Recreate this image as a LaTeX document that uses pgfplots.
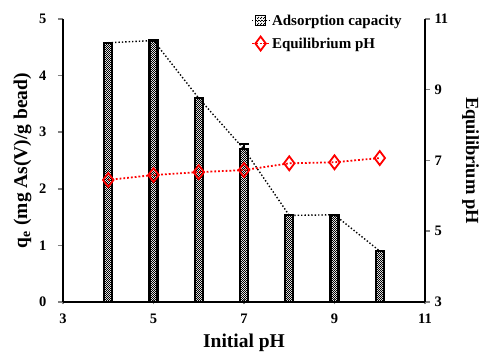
\documentclass[border=0pt]{standalone}
\usepackage{pgfplots}
\pgfplotsset{compat=1.18}
\usepackage{fontspec}
\setmainfont{Liberation Serif}
\usetikzlibrary{patterns,patterns.meta}
\tikzdeclarepattern{
  name=finecheck,
  type=uncolored,
  bottom left={(0pt,0pt)},
  top right={(2.4pt,2.4pt)},
  tile size={(2.4pt,2.4pt)},
  code={\pgfpathrectangle{\pgfpoint{0pt}{0pt}}{\pgfpoint{1.2pt}{1.2pt}}
        \pgfpathrectangle{\pgfpoint{1.2pt}{1.2pt}}{\pgfpoint{1.2pt}{1.2pt}}
        \pgfusepath{fill}}
}
\begin{document}
\begin{tikzpicture}[font=\bfseries]
\pgfplotsset{
  every axis/.append style={
    width=362pt, height=283pt, scale only axis,
    xmin=3, xmax=11,
    /pgf/number format/assume math mode=true,
    tick label style={font=\bfseries\fontsize{14.5}{14.5}\selectfont},
    axis line style={line width=2pt},
    major tick length=5pt,
  }
}
\begin{axis}[
  name=ax,
  axis y line*=left, axis x line*=bottom,
  ymin=0, ymax=5, ytick={0,1,2,3,4,5},
  xtick={3,5,7,9,11},
  xtick style={line width=1.5pt},
  ytick style={line width=1.5pt},
  tick align=outside, xtick align=center,
  yticklabel style={xshift=-8pt},
  xticklabel style={yshift=-6pt},
  xlabel={Initial pH},
  xlabel style={font=\bfseries\fontsize{19.5}{19.5}\selectfont, yshift=-3pt},
  ylabel={q\textsubscript{e} (mg As(V)/g bead)},
  ylabel style={font=\bfseries\fontsize{19.5}{19.5}\selectfont, yshift=1pt},
]
\addplot[black, dotted, line width=1.4pt] coordinates {
(4,4.58) (5,4.62) (6,3.60) (7,2.70) (8,1.53) (9,1.54) (10,0.90)};
\addplot[ybar, bar width=8pt, draw=black, line width=2.2pt, fill=white,
  pattern=finecheck]
 coordinates {
(4,4.58) (5,4.62) (6,3.60) (7,2.70) (8,1.53) (9,1.54) (10,0.90)};
\addplot[draw=none, mark=none,
  error bars/.cd, y dir=plus, y explicit, error bar style={line width=1.5pt}, error mark options={line width=1.5pt, mark size=5pt, rotate=90}]
 coordinates {(7,2.70) +- (0,0.09)};
\end{axis}
\begin{axis}[
  axis y line*=right, axis x line=none,
  ymin=3, ymax=11, ytick={3,5,7,9,11},
  ytick style={line width=1.5pt}, tick align=outside,
  yticklabel style={xshift=1pt},
  ylabel={Equilibrium pH},
  ylabel style={rotate=180, font=\bfseries\fontsize{18.5}{18.5}\selectfont, yshift=7pt},
  legend style={draw=none, fill=none, at={(0.511,1.03)}, anchor=north west,
    font=\bfseries\fontsize{15}{15}\selectfont, row sep=7pt},
  legend cell align=left,
]
\addlegendimage{black, dotted, line width=1.3pt, mark=square*, mark size=5pt,
  mark options={solid, draw=black, line width=1.5pt, pattern=finecheck}}
\addlegendentry{Adsorption capacity}
\addplot[red, dotted, line width=1.8pt, mark=diamond, mark size=7pt,
  mark options={solid, line width=1.8pt, fill=white}] coordinates {
(4,6.45) (5,6.59) (6,6.67) (7,6.73) (8,6.92) (9,6.95) (10,7.07)};
\addlegendentry{Equilibrium pH}
\end{axis}
\pgfresetboundingbox
\path ([shift={(-63pt,-50pt)}]ax.south west) rectangle ([shift={(56pt,19pt)}]ax.north east);
\end{tikzpicture}
\end{document}
